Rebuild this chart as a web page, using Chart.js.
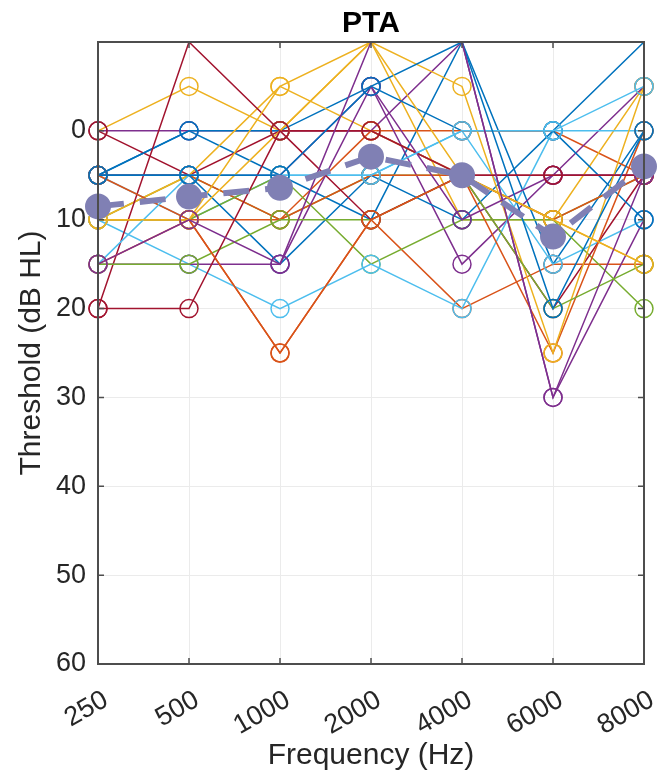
<!DOCTYPE html>
<html>
<head>
<meta charset="utf-8">
<script src="https://cdn.jsdelivr.net/npm/chart.js@4.4.1/dist/chart.umd.min.js"></script>
<style>
  html, body { margin: 0; padding: 0; background: #fff; }
  #wrap { width: 670px; height: 778px; }
</style>
</head>
<body>
<div id="wrap"><canvas id="pta" width="670" height="778"></canvas></div>
<script>
// frequencies (x categories)
const freqs = ['250', '500', '1000', '2000', '4000', '6000', '8000'];
const yTicks = [0, 10, 20, 30, 40, 50, 60];
const titulo = 'PTA';

// thresholds per subject (dB HL)
const s01 = [5, 0, 5, 10, -10, 15, 0];
const s02 = [10, 10, 25, 10, 20, 15, 15];
const s03 = [0, -5, 0, -10, 10, 10, 15];
const s04 = [0, 0, 0, 0, -10, 30, 10];
const s05 = [10, 5, 10, 5, 5, 10, 5];
const s06 = [5, 10, 5, 5, 0, 15, 10];
const s07 = [0, 5, 0, 0, 5, 5, 5];
const s08 = [5, 0, 0, -5, 0, 0, -10];
const s09 = [5, 5, 10, 0, 0, 0, 5];
const s10 = [10, 5, -5, 0, 5, 10, -5];
const s11 = [5, 5, 5, -5, 15, 5, -5];
const s12 = [10, 10, 5, 15, 10, 10, 20];
const s13 = [10, 15, 20, 15, 20, 0, 0];
const s14 = [20, -10, 0, 0, 5, 20, 5];
const s15 = [5, 5, 15, 5, 10, 0, 10];
const s16 = [5, 10, 10, 5, 5, 25, 0];
const s17 = [10, 10, 0, -10, -5, 25, -5];
const s18 = [15, 15, 15, -5, 10, 5, 5];
const s19 = [15, 15, 10, 10, 5, 20, 15];
const s20 = [15, 5, 5, 5, 0, 0, -5];
const s21 = [20, 20, 0, 10, 5, 5, 5];
const s22 = [5, 5, 5, -5, -10, 20, 0];
const s23 = [15, 10, 25, 10, 5, 10, 5];
const s24 = [10, 10, -5, -10, 5, 10, 15];
const s25 = [15, 10, 15, -10, -10, 30, 5];
const subjects = [s01, s02, s03, s04, s05, s06, s07, s08, s09, s10, s11, s12, s13,
                  s14, s15, s16, s17, s18, s19, s20, s21, s22, s23, s24, s25];

// group mean
const meanPTA = [8.5, 7.4, 6.4, 2.9, 5, 11.9, 4];

// matlab default line colours
const colores = ['rgb(0,114,189)', 'rgb(217,83,25)', 'rgb(237,177,32)', 'rgb(126,47,142)',
                 'rgb(119,172,48)', 'rgb(77,190,238)', 'rgb(162,20,47)'];

const fuente = "'Liberation Sans', Arial, sans-serif";
const grisTexto = '#262626';

let datasets = subjects.map((vals, i) => ({
    data: vals,
    borderColor: colores[i % 7],
    borderWidth: 1.5,
    pointStyle: 'circle',
    pointRadius: ctx => (ctx.raw <= -10 ? 0 : 9),
    pointBorderWidth: 1.5,
    pointBorderColor: colores[i % 7],
    pointBackgroundColor: 'rgba(0,0,0,0)',
    fill: false,
    tension: 0,
    order: 100 - i
}));

datasets.push({
    data: meanPTA,
    borderColor: 'rgb(128,128,180)',
    borderWidth: 6,
    borderDash: [26, 16],
    pointRadius: 10,
    pointBackgroundColor: 'rgb(128,128,180)',
    pointBorderColor: 'rgb(128,128,180)',
    fill: false,
    tension: 0,
    order: 0
});

// box round the axes, inward ticks and the title over the plot area, like matlab
const cajaEjes = {
    id: 'cajaEjes',
    afterDraw(chart) {
        const { ctx, chartArea: a, scales } = chart;
        ctx.save();
        ctx.strokeStyle = '#4d4d4d';
        ctx.lineWidth = 2;
        ctx.strokeRect(a.left, a.top, a.right - a.left, a.bottom - a.top);
        ctx.lineWidth = 1.5;
        freqs.forEach((f, i) => {
            const x = scales.x.getPixelForValue(i);
            ctx.beginPath();
            ctx.moveTo(x, a.bottom); ctx.lineTo(x, a.bottom - 6);
            ctx.moveTo(x, a.top); ctx.lineTo(x, a.top + 6);
            ctx.stroke();
        });
        yTicks.forEach(v => {
            const y = scales.y.getPixelForValue(v);
            ctx.beginPath();
            ctx.moveTo(a.left, y); ctx.lineTo(a.left + 6, y);
            ctx.moveTo(a.right, y); ctx.lineTo(a.right - 6, y);
            ctx.stroke();
        });
        ctx.fillStyle = '#000';
        ctx.font = 'bold 30px ' + fuente;
        ctx.textAlign = 'center';
        ctx.textBaseline = 'middle';
        ctx.fillText(titulo, (a.left + a.right) / 2, a.top - 18);
        ctx.restore();
    }
};

new Chart(document.getElementById('pta'), {
    type: 'line',
    data: { labels: freqs, datasets: datasets },
    options: {
        responsive: false,
        animation: false,
        devicePixelRatio: 1,
        layout: { padding: { left: 0, right: 26, top: 42, bottom: 0 } },
        plugins: {
            legend: { display: false },
            tooltip: { enabled: false },
            title: { display: false }
        },
        scales: {
            x: {
                type: 'category',
                offset: false,
                afterFit: s => { s.height = 114; s.paddingLeft = 0; s.paddingRight = 0; },
                grid: { color: '#ebebeb', lineWidth: 1, drawTicks: false },
                border: { display: false },
                ticks: {
                    color: grisTexto,
                    font: { family: fuente, size: 27 },
                    maxRotation: 30,
                    minRotation: 30,
                    padding: 20,
                    labelOffset: 8,
                    autoSkip: false
                },
                title: {
                    display: true,
                    text: 'Frequency (Hz)',
                    color: grisTexto,
                    font: { family: fuente, size: 30 },
                    padding: { top: 0, bottom: 4 }
                }
            },
            y: {
                reverse: true,
                min: -10,
                max: 60,
                afterFit: s => { s.width = 98; },
                afterBuildTicks: s => { s.ticks = [-10].concat(yTicks).map(v => ({ value: v })); },
                grid: { color: '#ebebeb', lineWidth: 1, drawTicks: false },
                border: { display: false },
                ticks: {
                    color: grisTexto,
                    font: { family: fuente, size: 27 },
                    padding: 12,
                    callback: v => (v <= -10 ? '' : v)
                },
                title: {
                    display: true,
                    text: 'Threshold (dB HL)',
                    color: grisTexto,
                    font: { family: fuente, size: 30 },
                    padding: { top: 14, bottom: 0 }
                }
            }
        }
    },
    plugins: [cajaEjes]
});
</script>
</body>
</html>
